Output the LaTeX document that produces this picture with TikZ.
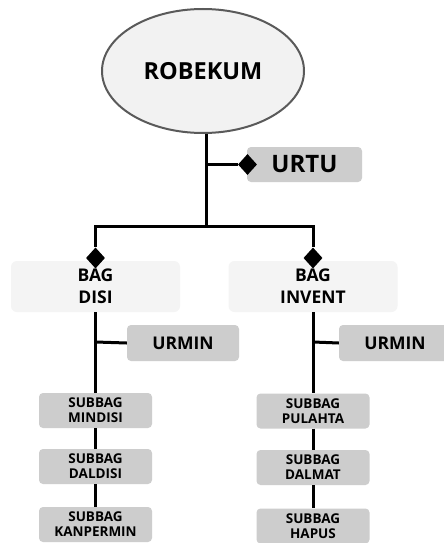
\documentclass[tikz,border=0pt]{standalone}
\usepackage{fontspec}
\setmainfont{Open Sans}
\usetikzlibrary{shapes.geometric}
\definecolor{boxgray}{HTML}{CDCDCD}
\definecolor{bagfill}{HTML}{F4F4F4}
\definecolor{ellfill}{HTML}{F2F2F2}
\definecolor{ellline}{HTML}{5A5A5A}
\tikzset{
  conn/.style={line width=3pt, draw=black},
  dia/.style={diamond, fill=black, inner sep=0pt, minimum width=19pt, minimum height=21pt},
  graybox/.style={fill=boxgray, rounded corners=4pt, inner sep=0pt, align=center, font=\bfseries},
  subbox/.style={graybox, minimum width=113pt, minimum height=35pt, font=\bfseries\fontsize{13.5}{15}\selectfont},
  bagbox/.style={fill=bagfill, rounded corners=6pt, inner sep=0pt, align=center, minimum width=169pt, minimum height=51pt, font=\bfseries\fontsize{17.5}{22}\selectfont},
  urbox/.style={graybox, minimum width=112pt, minimum height=36pt, font=\bfseries\fontsize{17.5}{20}\selectfont}
}
\begin{document}
\begin{tikzpicture}[x=1pt,y=-1pt]
\useasboundingbox (0,0) rectangle (444,543);
\clip (0,0) rectangle (444,543);
\fill[white] (0,0) rectangle (444,543);
% top
\node[ellipse, draw=ellline, line width=2pt, fill=ellfill, minimum width=202pt, minimum height=124pt, inner sep=0pt, font=\bfseries\fontsize{23.5}{26}\selectfont] (rob) at (203,71) {ROBEKUM};
\node[graybox, minimum width=115pt, minimum height=35pt, font=\bfseries\fontsize{24}{26}\selectfont] (urtu) at (304.5,164.5) {URTU};
% bags
\node[bagbox] (disi) at (95.5,286.5) {BAG\\DISI};
\node[bagbox] (invent) at (313,286.5) {BAG\\INVENT};
% urmin
\node[urbox] (urminl) at (183,343) {URMIN};
\node[urbox] (urminr) at (395,343) {URMIN};
% subbags
\node[subbox] (s1) at (95.5,410.5) {SUBBAG\\MINDISI};
\node[subbox] (s2) at (95.5,466.5) {SUBBAG\\DALDISI};
\node[subbox] (s3) at (95.5,524.5) {SUBBAG\\KANPERMIN};
\node[subbox] (t1) at (313,411) {SUBBAG\\PULAHTA};
\node[subbox] (t2) at (313,467.5) {SUBBAG\\DALMAT};
\node[subbox] (t3) at (313,526) {SUBBAG\\HAPUS};
% junctions
\coordinate (j) at (206,226);
\coordinate (ju) at (206,164.5);
\coordinate (jl) at (95.5,226);
\coordinate (jr) at (313,226);
\coordinate (kl) at (95.5,342);
\coordinate (kr) at (313,342);
% connectors
\draw[conn] (206,0 |- rob.south) -- (j);
\draw[conn] ([xshift=-1.5pt]jl) -- ([xshift=1.5pt]jr);
\draw[conn] (disi.south) -- (s1.north);
\draw[conn] (invent.south) -- (t1.north);
\draw[conn] (kl) -- (urminl.west);
\draw[conn] (kr) -- (urminr.west);
\draw[conn] (s1) -- (s2);
\draw[conn] (s2) -- (s3);
\draw[conn] (t1) -- (t2);
\draw[conn] (t2) -- (t3);
% diamonds
\node[dia] (du) at (247.5,164.5) {};
\node[dia] (dl) at (95.5,258) {};
\node[dia] (dr) at (313,258) {};
\draw[conn] (ju) -- (du.west);
\draw[conn] (jl) -- (dl.north);
\draw[conn] (jr) -- (dr.north);
\end{tikzpicture}
\end{document}
